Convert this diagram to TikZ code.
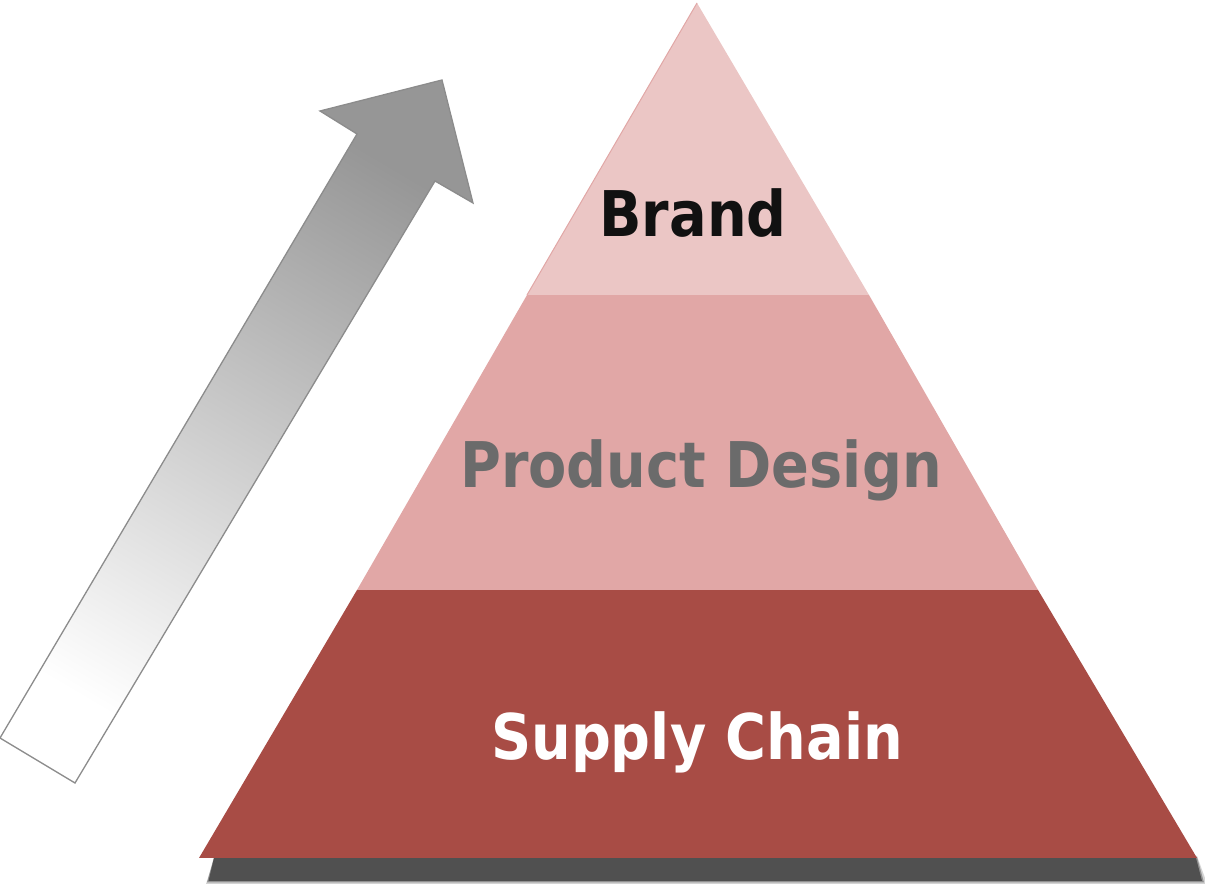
\documentclass[tikz,border=0pt]{standalone}
\usepackage{fontspec}
\setmainfont{DejaVu Sans}
\definecolor{tierA}{RGB}{235,198,197}
\definecolor{tierB}{RGB}{225,167,166}
\definecolor{tierC}{RGB}{168,76,69}
\definecolor{shadowgray}{RGB}{80,80,80}
\definecolor{arrowgray}{RGB}{150,150,150}
\definecolor{arrowline}{RGB}{140,140,140}
\definecolor{txtgray}{RGB}{107,107,107}
\definecolor{txtblack}{RGB}{17,17,17}
\tikzset{
  lbl/.style={anchor=base, inner sep=0pt, xscale=0.885, font=\bfseries\fontsize{63}{63}\selectfont},
}
\begin{document}
\begin{tikzpicture}[x=1pt,y=1pt]
\useasboundingbox (0,0) rectangle (1205,886);
% shadow under pyramid base (soft edge)
\fill[shadowgray, opacity=0.25] (215,30) -- (206,2) -- (1205,2) -- (1205,8) -- (1197,30) -- cycle;
\fill[shadowgray, opacity=0.5] (214,29) -- (207,3.5) -- (1204,3.5) -- (1197,29) -- cycle;
\fill[shadowgray] (214,28) -- (208.5,5) -- (1202,5) -- (1196,28) -- cycle;
% pyramid tiers
\fill[tierC] (357,296) -- (199,28) -- (1197,28) -- (1038,296) -- cycle;
\fill[tierB] (527,591) -- (357,296) -- (1038,296) -- (869,591) -- cycle;
\fill[tierA] (697,883) -- (527,591) -- (869,591) -- cycle;
\draw[tierB, line width=1pt] (527,591) -- (697,883);
% rising arrow
\shade[top color=arrowgray, middle color=arrowgray, bottom color=white,
       shading angle=-30.6, draw=arrowline, line width=1.3pt, line join=miter]
  (0,148) -- (75,103) -- (435,705) -- (473,683) -- (442,806) -- (320,775) -- (357,752) -- cycle;
% labels
\node[lbl, text=txtblack] (brand) at (693,649) {Brand};
\node[lbl, text=txtgray] (design) at (701,398) {Product Design};
\node[lbl, text=white] (supply) at (697,126) {Supply Chain};
\end{tikzpicture}
\end{document}
